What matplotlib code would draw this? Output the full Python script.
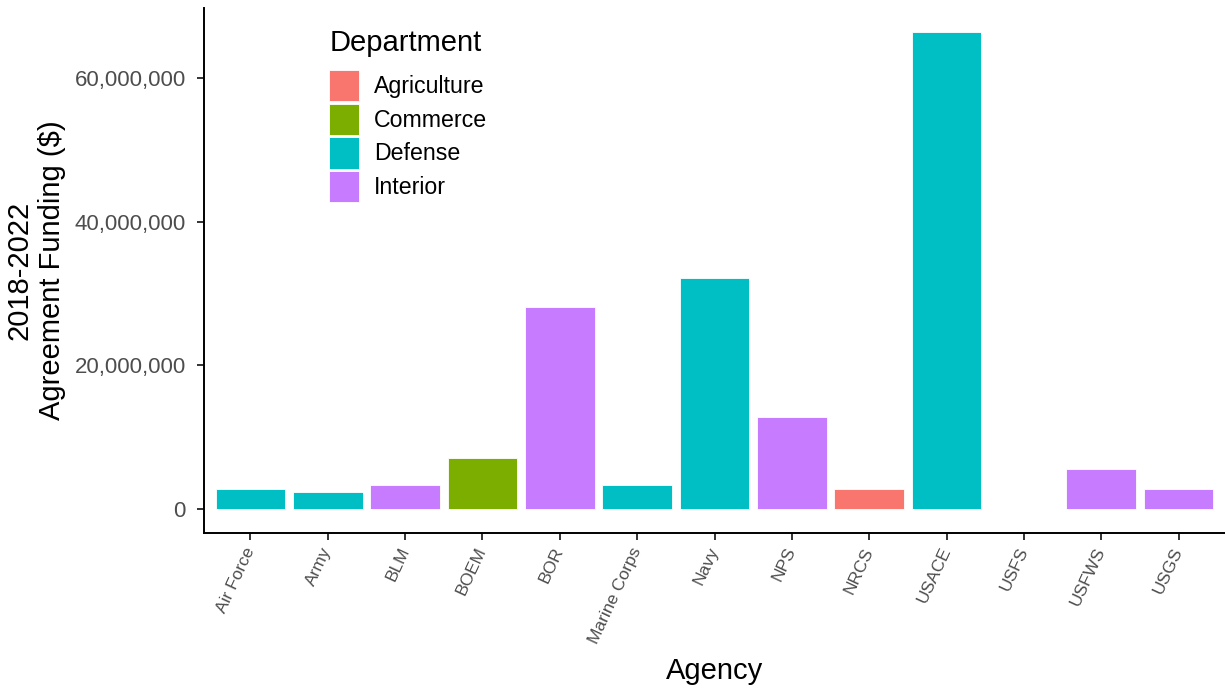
import matplotlib.pyplot as plt
from matplotlib.patches import Patch
from matplotlib.ticker import FuncFormatter

plt.rcParams['font.family'] = ['Liberation Sans', 'DejaVu Sans']

agencies = ['Air Force', 'Army', 'BLM', 'BOEM', 'BOR', 'Marine Corps', 'Navy',
            'NPS', 'NRCS', 'USACE', 'USFS', 'USFWS', 'USGS']
funding = [2.8e6, 2.4e6, 3.3e6, 7.1e6, 28.1e6, 3.3e6, 32.2e6,
           12.8e6, 2.8e6, 66.4e6, 0, 5.6e6, 2.8e6]
department = ['Defense', 'Defense', 'Interior', 'Commerce', 'Interior', 'Defense', 'Defense',
              'Interior', 'Agriculture', 'Defense', 'Agriculture', 'Interior', 'Interior']

dept_names = ['Agriculture', 'Commerce', 'Defense', 'Interior']
dept_colors = {'Agriculture': '#F8766D', 'Commerce': '#7CAE00',
               'Defense': '#00BFC4', 'Interior': '#C77CFF'}

fig = plt.figure(figsize=(12.25, 6.94), dpi=100)
ax = fig.add_axes([204 / 1225, 1 - 533 / 694, 1 - 204 / 1225, (533 - 8) / 694])

x = list(range(len(agencies)))
ax.bar(x, funding, width=0.9, color=[dept_colors[d] for d in department],
       edgecolor='white', linewidth=0.6)

ymax = max(funding)
ax.set_ylim(-0.05 * ymax, 1.05 * ymax)
ax.set_xlim(-0.6, len(agencies) - 0.4)

ax.set_yticks([0, 20e6, 40e6, 60e6])
ax.yaxis.set_major_formatter(FuncFormatter(lambda v, p: '{:,.0f}'.format(v)))
ax.set_xticks(x)
ax.set_xticklabels(agencies, rotation=65, ha='right', va='center',
                   rotation_mode='anchor', fontsize=12.5, color='#4D4D4D')

for s in ['top', 'right']:
    ax.spines[s].set_visible(False)
for s in ['left', 'bottom']:
    ax.spines[s].set_linewidth(1.4)
ax.tick_params(axis='both', length=5, width=1.4, color='#333333')
ax.tick_params(axis='y', labelsize=16, labelcolor='#4D4D4D', pad=8)
ax.tick_params(axis='x', pad=6)

ax.set_xlabel('Agency', fontsize=21, labelpad=8)
ax.set_ylabel('2018-2022\nAgreement Funding ($)', fontsize=21, labelpad=6)

# legend title placed by hand so the gap to the keys matches
fig.text(330 / 1225, 1 - 43 / 694, 'Department', fontsize=21, va='center', ha='left')
handles = [Patch(facecolor=dept_colors[d], edgecolor='white', linewidth=0.6) for d in dept_names]
leg = fig.legend(handles, dept_names, loc='upper left',
                 bbox_to_anchor=(329 / 1225, 1 - 70 / 694), frameon=False,
                 fontsize=16.7, handlelength=1.3, handleheight=1.7, labelspacing=0.1,
                 handletextpad=0.65, borderpad=0, borderaxespad=0)

fig.savefig('out.png', dpi=100)
